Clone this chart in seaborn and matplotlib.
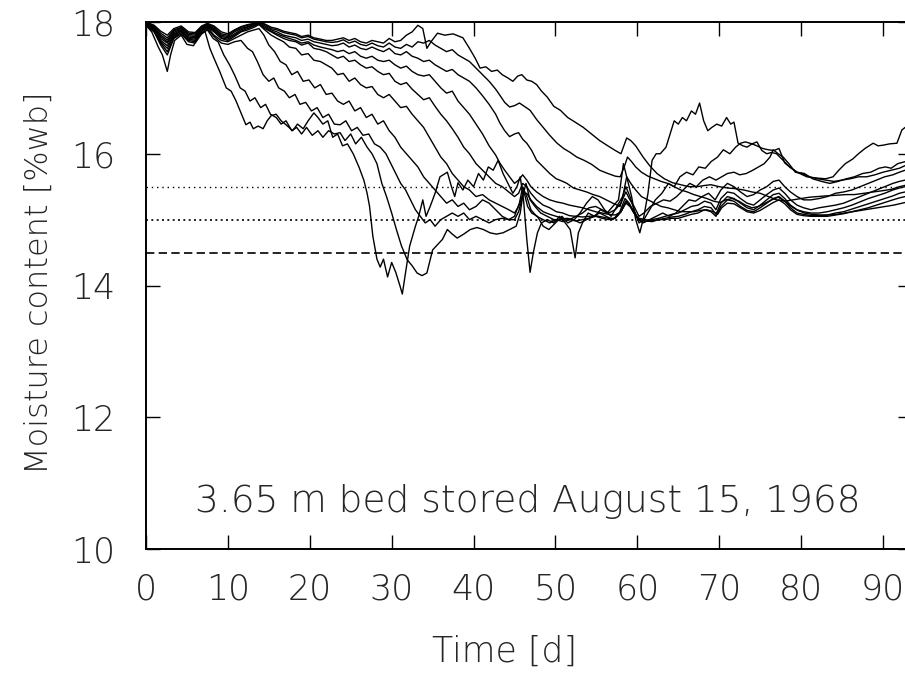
import matplotlib
matplotlib.use("Agg")
import matplotlib.pyplot as plt
import numpy as np
import pandas as pd
import seaborn as sns

# Moisture content of ten layers of a 3.65 m grain bed (bottom layer first)
day_1 = [0, 0.7, 1.5, 2.0, 2.6, 3.0, 3.5, 4.3, 5.0, 5.8, 6.5, 7.2, 7.8, 8.3, 9.0, 9.8, 10.4, 11.0, 11.6, 12.2,
         12.7, 13.1, 13.7, 14.3, 14.8, 15.3, 15.9, 16.5, 17.1, 17.9, 18.5, 19.2, 19.8, 20.5, 21.0, 21.6, 22.2, 22.8,
         23.4, 24.0, 24.6, 25.3, 26.0, 26.6, 27.0, 27.3, 27.7, 28.2, 28.6, 29.0, 29.5, 30.0, 30.5, 31.0, 31.3, 31.7,
         32.2, 32.9, 33.3, 33.8, 34.2, 34.7, 35.3, 35.9, 36.8, 37.3, 37.7, 38.1, 38.7, 39.3, 40.0, 40.6, 41.2, 41.8,
         42.4, 43.0, 43.6, 44.2, 44.8, 45.3, 45.7, 46.1, 46.5, 46.9, 47.3, 47.8, 48.3, 49.0, 49.8, 50.5, 51.2, 51.8,
         52.4, 52.8, 53.3, 54.0, 54.8, 55.5, 56.3, 57.0, 57.7, 58.3, 58.8, 59.3, 59.8, 60.3, 60.8, 61.3, 61.8, 62.3,
         62.8, 63.5, 64.0, 64.5, 65.0, 65.5, 66.0, 66.6, 67.1, 67.6, 68.1, 68.6, 69.1, 69.7, 70.3, 70.9, 71.4, 71.8,
         72.3, 72.9, 73.4, 74.0, 74.6, 75.2, 75.8, 76.4, 77.0, 77.8, 78.6, 79.5, 80.7, 82.0, 83.0, 83.9, 84.6, 85.4,
         86.3, 87.0, 87.8, 88.8, 89.4, 90.0, 90.8, 91.7, 92.3, 92.7]
mc_1 = [17.95, 17.85, 17.62, 17.5, 17.25, 17.5, 17.72, 17.8, 17.66, 17.64, 17.8, 17.86, 17.6, 17.45, 17.25, 17.0,
        16.95, 16.8, 16.62, 16.44, 16.48, 16.38, 16.42, 16.38, 16.5, 16.58, 16.6, 16.5, 16.44, 16.35, 16.45, 16.38,
        16.5, 16.62, 16.55, 16.45, 16.5, 16.25, 16.3, 16.12, 16.15, 16.0, 15.8, 15.6, 15.4, 15.2, 14.75, 14.4, 14.28,
        14.4, 14.13, 14.35, 14.2, 14.0, 13.87, 14.2, 14.6, 14.9, 15.05, 15.3, 15.05, 15.2, 15.4, 15.65, 15.72, 15.5,
        15.35, 15.56, 15.45, 15.6, 15.5, 15.7, 15.6, 15.8, 15.75, 15.9, 15.7, 15.55, 15.4, 15.5, 15.65, 15.3, 14.7,
        14.2, 14.5, 14.8, 14.95, 15.0, 14.95, 15.05, 14.95, 14.85, 14.42, 14.8, 14.95, 15.1, 15.05, 15.15, 15.1, 15.2,
        15.3, 15.85, 15.6, 15.35, 15.0, 14.8, 15.05, 15.4, 15.9, 16.0, 16.0, 16.1, 16.3, 16.5, 16.45, 16.55, 16.5,
        16.65, 16.6, 16.77, 16.5, 16.35, 16.4, 16.45, 16.42, 16.55, 16.45, 16.48, 16.16, 16.12, 16.1, 16.15, 16.18,
        16.05, 16.0, 16.02, 16.0, 15.9, 15.8, 15.72, 15.65, 15.63, 15.62, 15.65, 15.75, 15.85, 15.92, 16.0, 16.08,
        16.16, 16.12, 16.13, 16.15, 16.16, 16.36, 16.4]

day_2 = [0, 1.0, 1.8, 2.6, 3.4, 4.3, 5.2, 6.0, 6.8, 7.5, 8.2, 8.8, 9.5, 10.2, 10.8, 11.5, 12.1, 12.7, 13.3, 14.0,
         14.6, 15.2, 15.9, 16.5, 17.1, 17.8, 18.4, 19.0, 19.6, 20.3, 21.0, 21.6, 22.3, 23.0, 23.7, 24.3, 25.0, 25.6,
         26.3, 27.0, 27.6, 28.2, 28.8, 29.4, 30.0, 30.6, 31.2, 31.9, 32.5, 33.1, 33.7, 34.3, 35.0, 35.6, 36.2, 36.8,
         37.4, 38.0, 38.8, 39.6, 40.4, 41.2, 42.0, 42.8, 43.6, 44.4, 45.2, 45.7, 46.1, 46.6, 47.1, 47.8, 48.5, 49.2,
         50.0, 50.8, 51.5, 52.3, 53.0, 53.8, 54.5, 55.2, 56.0, 56.8, 57.5, 58.2, 58.6, 59.1, 59.6, 60.2, 60.8, 61.5,
         62.2, 63.0, 63.8, 64.5, 65.2, 66.0, 66.8, 67.5, 68.3, 69.0, 69.8, 70.5, 71.3, 72.0, 72.6, 73.2, 74.0, 74.6,
         75.3, 76.0, 76.7, 77.3, 78.0, 78.8, 79.5, 80.4, 81.4, 82.5, 83.5, 84.5, 85.5, 86.5, 87.5, 88.5, 89.5, 90.3,
         91.0, 91.8, 92.7]
mc_2 = [17.97, 17.85, 17.65, 17.5, 17.75, 17.82, 17.7, 17.68, 17.82, 17.88, 17.75, 17.7, 17.5, 17.35, 17.2, 17.0,
        16.95, 16.8, 16.85, 16.7, 16.75, 16.6, 16.55, 16.45, 16.5, 16.35, 16.4, 16.3, 16.4, 16.28, 16.35, 16.25,
        16.35, 16.3, 16.32, 16.2, 16.3, 16.15, 16.25, 16.1, 16.0, 15.85, 15.55, 15.34, 15.1, 14.84, 14.6, 14.39, 14.3,
        14.19, 14.15, 14.19, 14.54, 14.62, 14.7, 14.85, 14.78, 14.72, 14.78, 14.85, 14.88, 14.85, 14.8, 14.78, 14.8,
        14.85, 14.9, 15.1, 15.45, 15.2, 15.1, 15.05, 14.9, 14.85, 14.95, 15.05, 14.95, 15.0, 15.1, 15.25, 15.35, 15.3,
        15.15, 15.05, 15.2, 15.35, 15.5, 15.35, 15.15, 14.95, 15.0, 15.15, 15.3, 15.4, 15.55, 15.5, 15.65, 15.72,
        15.68, 15.8, 15.78, 15.88, 15.95, 16.06, 16.0, 16.1, 16.16, 16.18, 16.15, 16.12, 16.08, 16.06, 16.05, 16.08,
        15.86, 15.78, 15.72, 15.7, 15.62, 15.58, 15.55, 15.58, 15.62, 15.65, 15.7, 15.72, 15.78, 15.8, 15.78, 15.85,
        15.88]

day_3 = [0, 1.0, 1.8, 2.6, 3.4, 4.3, 5.2, 6.0, 6.8, 7.5, 8.3, 9.2, 10.0, 10.8, 11.6, 12.4, 13.0, 13.6, 14.3, 15.0,
         15.6, 16.2, 16.9, 17.5, 18.2, 18.8, 19.5, 20.2, 20.9, 21.6, 22.3, 23.0, 23.7, 24.4, 25.1, 25.8, 26.5, 27.2,
         27.9, 28.6, 29.3, 29.9, 30.5, 31.1, 31.7, 32.3, 32.9, 33.5, 34.1, 34.7, 35.3, 36.0, 36.7, 37.4, 38.1, 38.8,
         39.5, 40.3, 41.1, 41.9, 42.7, 43.5, 44.3, 45.0, 45.6, 46.0, 46.5, 47.0, 47.7, 48.5, 49.3, 50.1, 50.9, 51.7,
         52.5, 53.3, 54.1, 54.9, 55.7, 56.5, 57.3, 58.0, 58.6, 59.1, 59.6, 60.2, 60.8, 61.6, 62.4, 63.2, 64.0, 64.8,
         65.6, 66.4, 67.2, 68.0, 68.8, 69.6, 70.3, 71.0, 71.8, 72.5, 73.3, 74.1, 74.8, 75.5, 76.2, 76.6, 77.2, 77.8,
         78.5, 79.3, 80.1, 81.0, 82.0, 83.0, 84.0, 85.0, 86.0, 87.0, 88.0, 89.0, 90.0, 91.0, 92.0, 92.7]
mc_3 = [17.95, 17.85, 17.68, 17.55, 17.76, 17.84, 17.72, 17.7, 17.84, 17.9, 17.78, 17.68, 17.66, 17.7, 17.72, 17.6,
        17.55, 17.4, 17.2, 17.1, 17.15, 17.0, 16.95, 16.85, 16.9, 16.75, 16.78, 16.65, 16.7, 16.55, 16.6, 16.45,
        16.44, 16.5, 16.35, 16.4, 16.28, 16.3, 16.15, 16.1, 16.0, 15.85, 15.7, 15.55, 15.45, 15.3, 15.15, 15.05,
        14.95, 15.0, 14.9, 15.0, 15.05, 15.1, 15.05, 15.1, 15.0, 15.05, 15.0, 14.95, 15.0, 15.02, 15.0, 15.05, 15.25,
        15.5, 15.35, 15.15, 15.05, 15.0, 14.95, 15.0, 14.97, 15.0, 15.05, 15.1, 15.18, 15.2, 15.15, 15.1, 15.15,
        15.25, 15.42, 15.3, 15.2, 15.05, 15.1, 15.2, 15.25, 15.3, 15.28, 15.35, 15.45, 15.55, 15.5, 15.6, 15.65,
        15.6, 15.65, 15.7, 15.72, 15.68, 15.7, 15.75, 15.8, 15.85, 15.95, 16.06, 16.0, 15.95, 15.85, 15.72, 15.7,
        15.65, 15.62, 15.6, 15.58, 15.6, 15.62, 15.65, 15.65, 15.68, 15.72, 15.75, 15.78, 15.82]

day_4 = [0, 1.0, 1.8, 2.6, 3.4, 4.3, 5.2, 6.0, 6.8, 7.5, 8.3, 9.2, 10.0, 10.8, 11.6, 12.4, 13.2, 13.8, 14.4, 15.0,
         15.7, 16.4, 17.1, 17.8, 18.5, 19.2, 19.9, 20.6, 21.3, 22.0, 22.7, 23.4, 24.1, 24.8, 25.5, 26.2, 26.9, 27.6,
         28.3, 29.0, 29.7, 30.4, 31.1, 31.8, 32.5, 33.2, 33.9, 34.6, 35.3, 36.0, 36.7, 37.4, 38.1, 38.8, 39.5, 40.3,
         41.1, 41.9, 42.7, 43.5, 44.3, 45.0, 45.5, 46.0, 46.4, 46.9, 47.5, 48.2, 49.0, 49.8, 50.6, 51.4, 52.2, 53.0,
         53.8, 54.6, 55.4, 56.2, 57.0, 57.8, 58.5, 59.0, 59.5, 60.1, 60.7, 61.5, 62.3, 63.1, 63.9, 64.7, 65.5, 66.3,
         67.1, 67.9, 68.7, 69.5, 70.2, 71.0, 71.8, 72.6, 73.4, 74.2, 75.0, 75.8, 76.6, 77.3, 78.0, 78.7, 79.5, 80.3,
         81.2, 82.2, 83.2, 84.2, 85.2, 86.2, 87.2, 88.2, 89.2, 90.2, 91.2, 92.0, 92.7]
mc_4 = [17.96, 17.87, 17.7, 17.6, 17.78, 17.86, 17.74, 17.72, 17.86, 17.92, 17.8, 17.72, 17.7, 17.75, 17.8, 17.85,
        17.88, 17.9, 17.8, 17.65, 17.55, 17.4, 17.35, 17.2, 17.25, 17.1, 17.12, 17.0, 17.05, 16.9, 16.92, 16.8,
        16.75, 16.8, 16.65, 16.7, 16.55, 16.6, 16.45, 16.5, 16.35, 16.25, 16.1, 16.0, 15.9, 15.8, 15.65, 15.55,
        15.45, 15.35, 15.25, 15.3, 15.2, 15.25, 15.15, 15.2, 15.3, 15.25, 15.15, 15.05, 15.0, 15.0, 15.12, 15.35,
        15.55, 15.3, 15.2, 15.1, 15.05, 15.0, 15.0, 15.02, 15.0, 14.95, 15.0, 15.05, 15.1, 15.05, 15.0, 15.1, 15.32,
        15.25, 15.12, 15.0, 14.95, 15.0, 15.05, 15.1, 15.05, 15.1, 15.2, 15.3, 15.28, 15.35, 15.4, 15.3, 15.45,
        15.55, 15.5, 15.42, 15.35, 15.38, 15.45, 15.5, 15.58, 15.6, 15.5, 15.42, 15.35, 15.3, 15.3, 15.32, 15.35,
        15.4, 15.42, 15.45, 15.5, 15.55, 15.6, 15.65, 15.68, 15.72, 15.75]

day_5 = [0, 1.0, 1.8, 2.6, 3.4, 4.3, 5.2, 6.0, 6.8, 7.5, 8.3, 9.2, 10.0, 10.8, 11.6, 12.4, 13.2, 13.8, 14.5, 15.3,
         16.0, 16.8, 17.5, 18.3, 19.0, 19.8, 20.5, 21.3, 22.0, 22.7, 23.4, 24.1, 24.8, 25.5, 26.2, 26.9, 27.6, 28.3,
         29.0, 29.7, 30.4, 31.1, 31.8, 32.5, 33.2, 33.9, 34.6, 35.3, 36.0, 36.7, 37.4, 38.1, 38.8, 39.5, 40.3, 41.1,
         41.9, 42.7, 43.5, 44.3, 45.0, 45.5, 46.0, 46.5, 47.0, 47.7, 48.5, 49.3, 50.1, 50.9, 51.7, 52.5, 53.3, 54.1,
         54.9, 55.7, 56.5, 57.3, 58.0, 58.6, 59.1, 59.6, 60.2, 61.0, 61.8, 62.6, 63.4, 64.2, 65.0, 65.8, 66.6, 67.4,
         68.2, 69.0, 69.6, 70.2, 71.0, 71.8, 72.6, 73.4, 74.2, 75.0, 75.8, 76.6, 77.3, 78.0, 78.7, 79.5, 80.3, 81.2,
         82.2, 83.2, 84.2, 85.2, 86.2, 87.2, 88.2, 89.2, 90.2, 91.2, 92.0, 92.7]
mc_5 = [17.97, 17.88, 17.72, 17.64, 17.8, 17.87, 17.75, 17.74, 17.87, 17.93, 17.85, 17.75, 17.72, 17.78, 17.85,
        17.88, 17.92, 17.96, 17.88, 17.8, 17.75, 17.7, 17.62, 17.6, 17.5, 17.52, 17.42, 17.4, 17.35, 17.3, 17.2,
        17.22, 17.1, 17.15, 17.05, 17.0, 17.02, 16.9, 16.85, 16.9, 16.8, 16.7, 16.72, 16.6, 16.5, 16.4, 16.25, 16.1,
        15.95, 15.85, 15.7, 15.6, 15.5, 15.45, 15.35, 15.38, 15.3, 15.25, 15.2, 15.15, 15.1, 15.2, 15.38, 15.4, 15.3,
        15.2, 15.12, 15.08, 15.05, 15.02, 15.0, 14.98, 15.0, 15.02, 15.05, 15.02, 15.0, 15.02, 15.12, 15.28, 15.22,
        15.12, 15.0, 14.97, 15.0, 15.02, 15.05, 15.08, 15.1, 15.15, 15.2, 15.22, 15.28, 15.25, 15.15, 15.32, 15.42,
        15.4, 15.32, 15.25, 15.22, 15.3, 15.38, 15.45, 15.48, 15.4, 15.3, 15.22, 15.18, 15.15, 15.18, 15.2, 15.22,
        15.25, 15.3, 15.35, 15.4, 15.45, 15.5, 15.55, 15.58, 15.6]

day_6 = [0, 1.0, 1.8, 2.6, 3.4, 4.3, 5.2, 6.0, 6.8, 7.5, 8.3, 9.2, 10.0, 10.8, 11.6, 12.4, 13.2, 13.8, 14.5, 15.3,
         16.0, 16.8, 17.5, 18.3, 19.0, 19.8, 20.5, 21.3, 22.0, 22.7, 23.4, 24.1, 24.8, 25.5, 26.2, 26.9, 27.6, 28.3,
         29.0, 29.7, 30.4, 31.1, 31.8, 32.5, 33.2, 33.9, 34.6, 35.3, 36.0, 36.7, 37.4, 38.1, 38.8, 39.5, 40.3, 41.1,
         41.9, 42.7, 43.5, 44.3, 45.0, 45.5, 46.0, 46.5, 47.0, 47.7, 48.5, 49.3, 50.1, 50.9, 51.7, 52.5, 53.3, 54.1,
         54.9, 55.7, 56.5, 57.3, 58.0, 58.6, 59.1, 59.6, 60.2, 61.0, 61.8, 62.6, 63.4, 64.2, 65.0, 65.8, 66.6, 67.4,
         68.2, 69.0, 69.6, 70.2, 71.0, 71.8, 72.6, 73.4, 74.2, 75.0, 75.8, 76.6, 77.3, 78.0, 78.7, 79.5, 80.3, 81.2,
         82.2, 83.2, 84.2, 85.2, 86.2, 87.2, 88.2, 89.2, 90.2, 91.2, 92.0, 92.7]
mc_6 = [17.98, 17.9, 17.75, 17.68, 17.82, 17.88, 17.77, 17.76, 17.88, 17.94, 17.86, 17.76, 17.74, 17.8, 17.86, 17.9,
        17.94, 17.97, 17.9, 17.85, 17.8, 17.75, 17.72, 17.7, 17.65, 17.68, 17.6, 17.58, 17.55, 17.5, 17.45, 17.48,
        17.4, 17.42, 17.35, 17.3, 17.32, 17.25, 17.2, 17.22, 17.1, 17.05, 17.08, 16.98, 16.9, 16.82, 16.85, 16.72,
        16.6, 16.5, 16.38, 16.25, 16.1, 16.0, 15.85, 15.75, 15.65, 15.55, 15.5, 15.42, 15.35, 15.4, 15.55, 15.5, 15.4,
        15.3, 15.22, 15.18, 15.12, 15.1, 15.06, 15.05, 15.04, 15.05, 15.06, 15.04, 15.02, 15.02, 15.12, 15.28, 15.22,
        15.1, 15.0, 14.98, 14.97, 15.0, 15.02, 15.04, 15.05, 15.08, 15.12, 15.15, 15.2, 15.18, 15.08, 15.25, 15.35,
        15.32, 15.25, 15.18, 15.15, 15.22, 15.3, 15.38, 15.4, 15.32, 15.22, 15.15, 15.12, 15.1, 15.1, 15.12, 15.15,
        15.18, 15.22, 15.27, 15.32, 15.36, 15.4, 15.45, 15.48, 15.5]

day_7 = [0, 1.0, 1.8, 2.6, 3.4, 4.3, 5.2, 6.0, 6.8, 7.5, 8.3, 9.2, 10.0, 10.8, 11.6, 12.4, 13.2, 13.8, 14.5, 15.3,
         16.0, 16.8, 17.5, 18.3, 19.0, 19.8, 20.5, 21.3, 22.0, 22.7, 23.4, 24.1, 24.8, 25.5, 26.2, 26.9, 27.6, 28.3,
         29.0, 29.7, 30.4, 31.1, 31.8, 32.5, 33.2, 33.9, 34.6, 35.3, 36.0, 36.7, 37.4, 38.1, 38.8, 39.5, 40.3, 41.1,
         41.9, 42.7, 43.2, 43.8, 44.4, 45.0, 45.5, 46.0, 46.5, 47.0, 47.7, 48.5, 49.3, 50.1, 50.9, 51.7, 52.5, 53.3,
         54.1, 54.9, 55.7, 56.5, 57.3, 58.0, 58.6, 59.1, 59.6, 60.2, 61.0, 61.8, 62.6, 63.4, 64.2, 65.0, 65.8, 66.6,
         67.4, 68.2, 69.0, 69.6, 70.2, 71.0, 71.8, 72.6, 73.4, 74.2, 75.0, 75.8, 76.6, 77.3, 78.0, 78.7, 79.5, 80.3,
         81.2, 82.2, 83.2, 84.2, 85.2, 86.2, 87.2, 88.2, 89.2, 90.2, 91.2, 92.0, 92.7]
mc_7 = [17.98, 17.91, 17.78, 17.7, 17.84, 17.9, 17.79, 17.78, 17.9, 17.95, 17.88, 17.78, 17.76, 17.82, 17.88,
        17.92, 17.95, 17.98, 17.92, 17.86, 17.82, 17.78, 17.75, 17.72, 17.68, 17.7, 17.65, 17.62, 17.6, 17.58, 17.55,
        17.57, 17.52, 17.55, 17.48, 17.45, 17.48, 17.42, 17.4, 17.42, 17.35, 17.3, 17.33, 17.25, 17.2, 17.18, 17.2,
        17.1, 17.0, 16.92, 16.95, 16.8, 16.7, 16.6, 16.45, 16.3, 16.12, 15.98, 15.86, 15.75, 15.65, 15.55, 15.6,
        15.68, 15.6, 15.5, 15.42, 15.35, 15.3, 15.27, 15.25, 15.22, 15.2, 15.18, 15.15, 15.12, 15.1, 15.08, 15.07,
        15.12, 15.25, 15.2, 15.1, 15.02, 15.0, 14.98, 15.0, 15.0, 15.02, 15.02, 15.05, 15.08, 15.1, 15.15, 15.12,
        15.05, 15.2, 15.3, 15.28, 15.2, 15.14, 15.12, 15.18, 15.25, 15.32, 15.35, 15.28, 15.18, 15.1, 15.08, 15.06,
        15.06, 15.07, 15.1, 15.12, 15.16, 15.2, 15.24, 15.28, 15.32, 15.36, 15.4, 15.42]

day_8 = [0, 1.0, 1.8, 2.6, 3.4, 4.3, 5.2, 6.0, 6.8, 7.5, 8.3, 9.2, 10.0, 10.8, 11.6, 12.4, 13.2, 13.8, 14.5, 15.3,
         16.0, 16.8, 17.5, 18.3, 19.0, 19.8, 20.5, 21.3, 22.0, 22.7, 23.4, 24.1, 24.8, 25.5, 26.2, 26.9, 27.6, 28.3,
         29.0, 29.7, 30.4, 31.1, 31.8, 32.5, 33.2, 33.9, 34.6, 35.3, 36.0, 36.7, 37.4, 38.1, 38.8, 39.5, 40.3, 41.1,
         41.9, 42.7, 43.2, 43.8, 44.4, 45.0, 45.5, 46.0, 46.5, 47.1, 47.7, 48.5, 49.3, 50.1, 50.9, 51.4, 52.2, 53.0,
         53.8, 54.6, 55.4, 56.2, 57.0, 57.9, 58.3, 58.7, 59.2, 59.8, 60.5, 61.3, 62.1, 62.9, 63.7, 64.5, 65.3, 66.1,
         66.9, 67.7, 68.5, 69.3, 69.8, 70.3, 71.0, 71.8, 72.6, 73.4, 74.2, 75.0, 75.8, 76.6, 77.3, 78.0, 78.7, 79.5,
         80.3, 81.2, 82.2, 83.2, 84.2, 85.2, 86.2, 87.2, 88.2, 89.2, 90.2, 91.2, 92.0, 92.7]
mc_8 = [17.99, 17.92, 17.8, 17.73, 17.86, 17.91, 17.81, 17.8, 17.91, 17.96, 17.9, 17.8, 17.78, 17.85, 17.9, 17.93,
        17.96, 17.99, 17.94, 17.88, 17.85, 17.8, 17.78, 17.76, 17.72, 17.74, 17.7, 17.68, 17.66, 17.64, 17.65, 17.68,
        17.62, 17.65, 17.6, 17.58, 17.62, 17.58, 17.55, 17.6, 17.52, 17.5, 17.55, 17.48, 17.45, 17.4, 17.42, 17.35,
        17.3, 17.25, 17.28, 17.2, 17.15, 17.1, 17.0, 16.88, 16.75, 16.6, 16.47, 16.35, 16.26, 16.3, 16.32, 16.22,
        16.16, 16.05, 15.9, 15.8, 15.7, 15.62, 15.58, 15.55, 15.48, 15.45, 15.42, 15.38, 15.35, 15.3, 15.25, 15.2,
        15.4, 15.65, 15.55, 15.45, 15.35, 15.3, 15.25, 15.2, 15.18, 15.15, 15.12, 15.12, 15.12, 15.14, 15.15, 15.12,
        15.08, 15.18, 15.25, 15.24, 15.18, 15.12, 15.1, 15.14, 15.2, 15.26, 15.3, 15.24, 15.15, 15.08, 15.06, 15.05,
        15.05, 15.05, 15.07, 15.09, 15.12, 15.15, 15.18, 15.22, 15.26, 15.3, 15.33, 15.35]

day_9 = [0, 1.0, 1.8, 2.6, 3.4, 4.3, 5.2, 6.0, 6.8, 7.5, 8.3, 9.2, 10.0, 10.8, 11.6, 12.4, 13.2, 13.8, 14.5, 15.3,
         16.0, 16.8, 17.5, 18.3, 19.0, 19.8, 20.5, 21.3, 22.0, 22.7, 23.4, 24.1, 24.8, 25.5, 26.2, 26.9, 27.6, 28.3,
         29.0, 29.7, 30.4, 31.1, 31.8, 32.5, 33.2, 33.9, 34.6, 35.3, 36.0, 36.7, 37.4, 38.1, 38.8, 39.5, 40.3, 41.1,
         41.9, 42.7, 43.2, 43.8, 44.4, 45.0, 45.6, 46.2, 46.9, 47.7, 48.5, 49.3, 50.2, 51.0, 51.8, 52.6, 53.5, 54.4,
         55.4, 56.4, 57.3, 57.9, 58.4, 58.8, 59.3, 59.8, 60.5, 61.3, 62.1, 62.9, 63.7, 64.5, 65.3, 66.1, 66.9, 67.7,
         68.5, 69.3, 70.1, 70.8, 71.6, 72.4, 73.2, 74.0, 74.8, 75.6, 76.4, 77.2, 78.0, 78.8, 79.6, 80.4, 81.3, 82.3,
         83.3, 84.3, 85.3, 86.3, 87.3, 88.3, 89.3, 90.3, 91.3, 92.0, 92.7]
mc_9 = [17.99, 17.94, 17.83, 17.76, 17.88, 17.92, 17.83, 17.82, 17.93, 17.97, 17.92, 17.82, 17.8, 17.87, 17.92,
        17.95, 17.97, 18.0, 17.96, 17.9, 17.88, 17.84, 17.82, 17.8, 17.76, 17.78, 17.74, 17.72, 17.7, 17.69, 17.7,
        17.73, 17.68, 17.71, 17.66, 17.64, 17.68, 17.64, 17.62, 17.68, 17.62, 17.6, 17.66, 17.62, 17.7, 17.68,
        17.72, 17.65, 17.6, 17.55, 17.58, 17.5, 17.45, 17.4, 17.3, 17.2, 17.1, 16.98, 16.89, 16.78, 16.71, 16.73,
        16.77, 16.72, 16.66, 16.52, 16.4, 16.28, 16.16, 16.08, 16.02, 15.95, 15.9, 15.84, 15.75, 15.7, 15.66, 15.65,
        15.8, 15.95, 15.88, 15.8, 15.72, 15.66, 15.62, 15.58, 15.55, 15.5, 15.45, 15.42, 15.38, 15.35, 15.32, 15.28,
        15.26, 15.3, 15.32, 15.28, 15.22, 15.18, 15.2, 15.25, 15.3, 15.34, 15.28, 15.2, 15.14, 15.1, 15.08, 15.07,
        15.07, 15.08, 15.1, 15.12, 15.14, 15.16, 15.18, 15.2, 15.22, 15.24, 15.26]

day_10 = [0, 1.0, 1.8, 2.6, 3.4, 4.3, 5.2, 6.0, 6.8, 7.5, 8.3, 9.2, 10.0, 10.8, 11.6, 12.4, 13.2, 13.8, 14.5, 15.3,
          16.0, 16.8, 17.5, 18.3, 19.0, 19.8, 20.5, 21.3, 22.0, 22.7, 23.4, 24.1, 24.8, 25.5, 26.2, 26.9, 27.6, 28.3,
          29.0, 29.7, 30.4, 31.1, 31.8, 32.5, 33.2, 33.8, 34.3, 34.8, 35.6, 36.5, 37.5, 38.7, 39.5, 40.2, 40.8, 41.5,
          42.2, 42.9, 43.5, 44.2, 44.8, 45.4, 45.9, 46.5, 47.1, 47.7, 48.3, 49.0, 49.8, 50.6, 51.5, 52.4, 53.4, 54.4,
          55.4, 56.4, 57.3, 58.0, 58.7, 59.2, 59.8, 60.7, 61.5, 62.4, 63.3, 64.3, 65.3, 66.3, 67.3, 68.3, 69.0, 70.0,
          71.0, 72.0, 73.0, 74.0, 75.0, 76.0, 77.0, 78.0, 79.0, 80.0, 81.0, 82.0, 83.0, 84.3, 85.5, 86.5, 87.7, 88.8,
          90.0, 91.0, 92.0, 92.7]
mc_10 = [18.0, 17.95, 17.86, 17.8, 17.9, 17.94, 17.85, 17.84, 17.94, 17.98, 17.94, 17.85, 17.82, 17.88, 17.93,
         17.96, 17.98, 18.0, 17.97, 17.92, 17.9, 17.86, 17.84, 17.82, 17.78, 17.8, 17.76, 17.74, 17.72, 17.72, 17.74,
         17.76, 17.72, 17.75, 17.7, 17.68, 17.72, 17.7, 17.68, 17.75, 17.7, 17.72, 17.8, 17.85, 17.95, 17.9, 17.6,
         17.7, 17.83, 17.8, 17.82, 17.76, 17.6, 17.45, 17.3, 17.32, 17.25, 17.27, 17.2, 17.15, 17.1, 17.18, 17.2,
         17.12, 17.1, 17.05, 16.95, 16.86, 16.72, 16.66, 16.55, 16.48, 16.4, 16.3, 16.2, 16.12, 16.05, 16.0, 16.24,
         16.2, 16.12, 15.95, 15.82, 15.7, 15.62, 15.56, 15.53, 15.5, 15.5, 15.52, 15.53, 15.5, 15.48, 15.47, 15.45,
         15.42, 15.4, 15.35, 15.3, 15.28, 15.3, 15.32, 15.34, 15.35, 15.36, 15.37, 15.38, 15.38, 15.4, 15.42, 15.44,
         15.46, 15.5, 15.52]

all_days = [day_1, day_2, day_3, day_4, day_5, day_6, day_7, day_8, day_9, day_10]
all_mc = [mc_1, mc_2, mc_3, mc_4, mc_5, mc_6, mc_7, mc_8, mc_9, mc_10]

# Reference moisture levels (dotted, dotted, dashed)
ref_levels = [15.5, 15.0, 14.5]

x_ticks = [0, 10, 20, 30, 40, 50, 60, 70, 80, 90]
y_ticks = [10, 12, 14, 16, 18]

frames = []
for k, (d, m) in enumerate(zip(all_days, all_mc), start=1):
    frames.append(pd.DataFrame({"day": d, "mc": m, "layer": k}))
df = pd.concat(frames, ignore_index=True)

sns.set_style("ticks")
plt.rcParams["font.family"] = ["DejaVu Sans"]

W, H = 905, 676
fig = plt.figure(figsize=(W / 100, H / 100), dpi=100)
ax = fig.add_axes([146 / W, 1 - 549 / H, (912 - 146) / W, (549 - 22) / H])

sns.lineplot(data=df, x="day", y="mc", units="layer", estimator=None, color="black",
             linewidth=1.0, ax=ax, sort=False, legend=False)

ax.axhline(ref_levels[0], color="black", linewidth=1.0, linestyle=(0, (1.0, 2.8)))
ax.axhline(ref_levels[1], color="black", linewidth=1.2, linestyle=(0, (1.2, 2.0)))
ax.axhline(ref_levels[2], color="black", linewidth=1.2, linestyle=(0, (5.0, 2.6)))

ax.set_xlim(0, 93.54)
ax.set_ylim(10, 18)
ax.set_xticks(x_ticks)
ax.set_yticks(y_ticks)
ax.set_xticklabels([str(t) for t in x_ticks])
ax.set_yticklabels([str(t) for t in y_ticks])

for side in ["left", "bottom", "top"]:
    ax.spines[side].set_visible(True)
    ax.spines[side].set_linewidth(1.4)
    ax.spines[side].set_color("black")
ax.spines["right"].set_visible(False)

ax.tick_params(axis="both", which="major", direction="in", length=10, width=1.0,
               color="black", top=True, right=True, labelsize=25, pad=17)
ax.tick_params(axis="y", pad=22)
for lab in ax.get_xticklabels() + ax.get_yticklabels():
    lab.set_fontweight("light")

ax.set_xlabel("Time [d]", fontsize=25, fontweight="light")
ax.set_ylabel("Moisture content [%wb]", fontsize=23, fontweight="light")
ax.xaxis.set_label_coords((505 - 146) / 766, -(652 - 549) / 527)
ax.xaxis.label.set_verticalalignment("center")
ax.yaxis.set_label_coords((39 - 146) / 766, (549 - 283) / 527)
ax.yaxis.label.set_verticalalignment("center")

ax.text(46.6, 10.56, "3.65 m bed stored August 15, 1968", fontsize=27, fontweight="light",
        ha="center", va="baseline")

fig.savefig("out.png", dpi=100)
